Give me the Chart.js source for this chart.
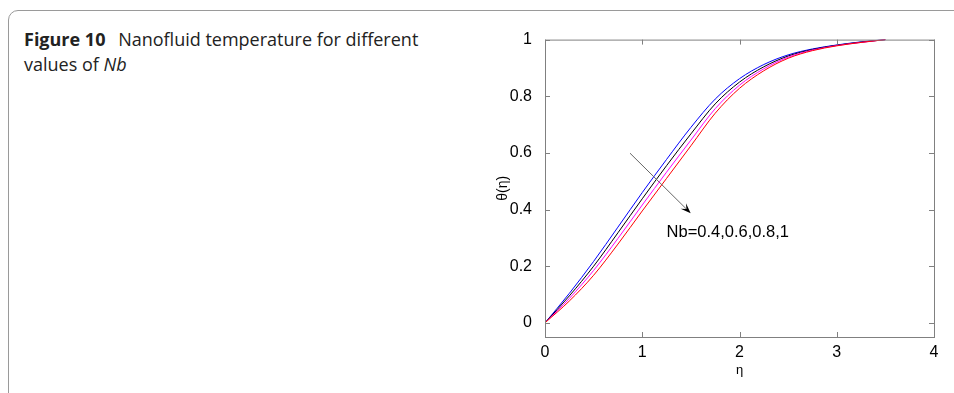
<!DOCTYPE html>
<html>
<head>
<meta charset="utf-8">
<script src="https://cdn.jsdelivr.net/npm/chart.js@4.4.1/dist/chart.umd.min.js"></script>
<style>
  html, body { margin: 0; padding: 0; background: #fff; width: 954px; height: 393px; overflow: hidden; }
  .card {
    position: absolute; left: 8px; top: 10px; width: 980px; height: 420px;
    border: 1px solid #9a9a9a; border-top-left-radius: 10px; box-sizing: border-box;
  }
  .caption {
    position: absolute; left: 24px; top: 27px; width: 460px;
    font-family: "Open Sans", sans-serif; font-size: 18px; line-height: 25px; color: #222;
  }
  .caption b { font-weight: 700; margin-right: 8px; }
  #wrap { position: absolute; left: 490px; top: 25px; width: 460px; height: 365px; }
</style>
</head>
<body>
<div class="card"></div>
<div class="caption"><b>Figure 10</b> Nanofluid temperature for different<br>values of <i>Nb</i></div>
<div id="wrap"><canvas id="chart"></canvas></div>
<script>
// eta grid and theta(eta) for Nb = 0.4, 0.6, 0.8, 1
const eta = [0, 0.25, 0.5, 0.75, 1.0, 1.25, 1.5, 1.75, 2.0, 2.25, 2.5, 2.75, 3.0, 3.25, 3.5];
const nb04 = [0, 0.104, 0.217, 0.338, 0.46, 0.577, 0.69, 0.79, 0.862, 0.912, 0.946, 0.967, 0.981, 0.992, 1.0];
const nb06 = [0, 0.095, 0.2, 0.318, 0.438, 0.555, 0.667, 0.773, 0.85, 0.904, 0.942, 0.965, 0.98, 0.991, 1.0];
const nb08 = [0, 0.086, 0.185, 0.298, 0.416, 0.532, 0.645, 0.756, 0.839, 0.897, 0.938, 0.963, 0.979, 0.99, 1.0];
const nb10 = [0, 0.077, 0.168, 0.278, 0.395, 0.51, 0.625, 0.74, 0.828, 0.89, 0.934, 0.961, 0.978, 0.99, 1.0];

const xTicks = [0, 1, 2, 3, 4];
const yTicks = [0, 0.2, 0.4, 0.6, 0.8, 1];

const arrowFrom = [0.874, 0.599];
const arrowTo = [1.498, 0.387];
const noteAt = [1.25, 0.32];
const noteText = 'Nb=0.4,0.6,0.8,1';

const toPts = (ys) => ys.map((y, i) => ({x: eta[i], y: y}));
const line = (label, ys, color) => ({
  label: label, data: toPts(ys), borderColor: color, borderWidth: 1,
  pointRadius: 0, fill: false, cubicInterpolationMode: 'monotone'
});

const boxPlugin = {
  id: 'box',
  afterDatasetsDraw(chart) {
    const c = chart.ctx, a = chart.chartArea;
    const xs = chart.scales.x, ys = chart.scales.y;
    c.save();
    c.strokeStyle = '#808080';
    c.lineWidth = 1;
    c.strokeRect(a.left + 0.5, a.top + 0.5, a.right - a.left, a.bottom - a.top);
    c.beginPath();
    xTicks.forEach(v => {
      const px = Math.round(xs.getPixelForValue(v)) + 0.5;
      c.moveTo(px, a.bottom); c.lineTo(px, a.bottom - 5);
      c.moveTo(px, a.top); c.lineTo(px, a.top + 5);
    });
    yTicks.forEach(v => {
      const py = Math.round(ys.getPixelForValue(v)) + 0.5;
      c.moveTo(a.left, py); c.lineTo(a.left + 5, py);
      c.moveTo(a.right, py); c.lineTo(a.right - 5, py);
    });
    c.stroke();

    // arrow
    const x1 = xs.getPixelForValue(arrowFrom[0]), y1 = ys.getPixelForValue(arrowFrom[1]);
    const x2 = xs.getPixelForValue(arrowTo[0]), y2 = ys.getPixelForValue(arrowTo[1]);
    const ang = Math.atan2(y2 - y1, x2 - x1);
    c.strokeStyle = '#666';
    c.beginPath(); c.moveTo(x1, y1); c.lineTo(x2 - 6 * Math.cos(ang), y2 - 6 * Math.sin(ang)); c.stroke();
    c.fillStyle = '#000';
    c.beginPath();
    c.moveTo(x2, y2);
    c.lineTo(x2 - 11 * Math.cos(ang - 0.35), y2 - 11 * Math.sin(ang - 0.35));
    c.lineTo(x2 - 6 * Math.cos(ang), y2 - 6 * Math.sin(ang));
    c.lineTo(x2 - 11 * Math.cos(ang + 0.35), y2 - 11 * Math.sin(ang + 0.35));
    c.closePath(); c.fill();

    c.font = '16.5px "Liberation Sans", Arial, sans-serif';
    c.textAlign = 'left';
    c.textBaseline = 'middle';
    c.fillText(noteText, xs.getPixelForValue(noteAt[0]), ys.getPixelForValue(noteAt[1]));
    c.restore();
  }
};

const ctx = document.querySelector('#chart').getContext('2d');
const chart = new Chart(ctx, {
  type: 'line',
  data: {
    datasets: [
      line('Nb=1', nb10, 'rgb(255,0,0)'),
      line('Nb=0.8', nb08, 'rgb(255,0,255)'),
      line('Nb=0.6', nb06, 'rgb(0,0,0)'),
      line('Nb=0.4', nb04, 'rgb(0,0,255)')
    ]
  },
  options: {
    responsive: true,
    maintainAspectRatio: false,
    animation: false,
    layout: { padding: { top: 11, right: 16, left: 0, bottom: 0 } },
    plugins: { legend: { display: false }, tooltip: { enabled: false } },
    scales: {
      x: {
        type: 'linear', min: 0, max: 4,
        grid: { display: false }, border: { display: false },
        afterBuildTicks: (s) => { s.ticks = xTicks.map(v => ({value: v})); },
        afterFit: (s) => { s.height = 53; },
        ticks: {
          color: '#000', padding: -2,
          font: { family: '"Liberation Sans", Arial, sans-serif', size: 16 },
          callback: (v) => String(v)
        },
        title: {
          display: true, text: 'η', color: '#000', padding: { top: 0, bottom: 12 },
          font: { family: '"Liberation Sans", Arial, sans-serif', size: 13 }
        }
      },
      y: {
        type: 'linear', min: -0.05, max: 1,
        grid: { display: false }, border: { display: false },
        afterBuildTicks: (s) => { s.ticks = yTicks.map(v => ({value: v})); },
        afterFit: (s) => { s.width = 55; },
        ticks: {
          color: '#000', padding: 5,
          font: { family: '"Liberation Sans", Arial, sans-serif', size: 16 },
          callback: (v) => String(Math.round(v * 10) / 10)
        },
        title: {
          display: true, text: 'θ(η)', color: '#000', padding: { top: 5, bottom: 0 },
          font: { family: '"Liberation Sans", Arial, sans-serif', size: 14 }
        }
      }
    }
  },
  plugins: [boxPlugin]
});
</script>
</body>
</html>
